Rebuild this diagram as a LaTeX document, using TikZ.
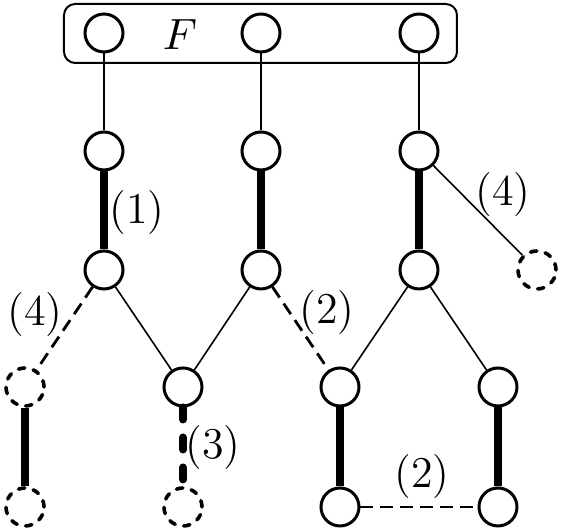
\documentclass[tikz,border=0pt]{standalone}
\begin{document}
\begin{tikzpicture}[x=0.25pt,y=-0.25pt,
 vtx/.style={circle,draw,line width=0.75pt,minimum size=9.5pt,inner sep=0pt},
 dvtx/.style={vtx,line width=0.9pt,line cap=round,dash pattern=on 1.6pt off 2.15pt},
 thinedge/.style={line width=0.4pt},
 thickedge/.style={line width=2.1pt},
 dedge/.style={line width=0.7pt,dash pattern=on 3.2pt off 1.8pt},
 tdedge/.style={line width=2pt,line cap=round,dash pattern=on 3pt off 4.5pt},
 lbl/.style={font=\fontsize{11}{13}\selectfont,inner sep=0pt},
 boxst/.style={draw,line width=0.5pt,rounded corners=2.8pt,minimum width=98.25pt,minimum height=14.75pt,inner sep=0pt}]
\useasboundingbox (0,0) rectangle (561,531);
\node[boxst] (box) at (260.5,33.5) {};
\node[lbl] (F) at (180,35) {$F$};
% row 1
\node[vtx] (a1) at (104,33) {};
\node[vtx] (a2) at (261,33) {};
\node[vtx] (a3) at (419,33) {};
% row 2
\node[vtx] (b1) at (104,151) {};
\node[vtx] (b2) at (261,151) {};
\node[vtx] (b3) at (419,151) {};
% row 3
\node[vtx] (c1) at (104,270) {};
\node[vtx] (c2) at (261,270) {};
\node[vtx] (c3) at (419,270) {};
\node[dvtx] (c4) at (537,270) {};
% row 4
\node[dvtx] (d1) at (25,387) {};
\node[vtx] (d2) at (183,387) {};
\node[vtx] (d3) at (340,387) {};
\node[vtx] (d4) at (498,387) {};
% row 5
\node[dvtx] (e1) at (25,507) {};
\node[dvtx] (e2) at (183,507) {};
\node[vtx] (e3) at (340,507) {};
\node[vtx] (e4) at (498,507) {};
% edges
\draw[thinedge] (a1) -- (b1);
\draw[thinedge] (a2) -- (b2);
\draw[thinedge] (a3) -- (b3);
\draw[thickedge] (b1) -- (c1);
\draw[thickedge] (b2) -- (c2);
\draw[thickedge] (b3) -- (c3);
\draw[thinedge] (b3) -- (c4);
\draw[dedge] (c1) -- (d1);
\draw[thinedge] (c1) -- (d2);
\draw[thinedge] (c2) -- (d2);
\draw[dedge] (c2) -- (d3);
\draw[thinedge] (c3) -- (d3);
\draw[thinedge] (c3) -- (d4);
\draw[thickedge] (d1) -- (e1);
\draw[tdedge] (d2) -- (e2);
\draw[thickedge] (d3) -- (e3);
\draw[thickedge] (d4) -- (e4);
\draw[dedge] (e3) -- (e4);
% labels
\node[lbl] (l1) at (137,213) {(1)};
\node[lbl] (l4r) at (503,195) {(4)};
\node[lbl] (l4l) at (35,315) {(4)};
\node[lbl] (l2u) at (327,313) {(2)};
\node[lbl] (l3) at (213,448) {(3)};
\node[lbl] (l2d) at (422,477) {(2)};
\end{tikzpicture}
\end{document}
